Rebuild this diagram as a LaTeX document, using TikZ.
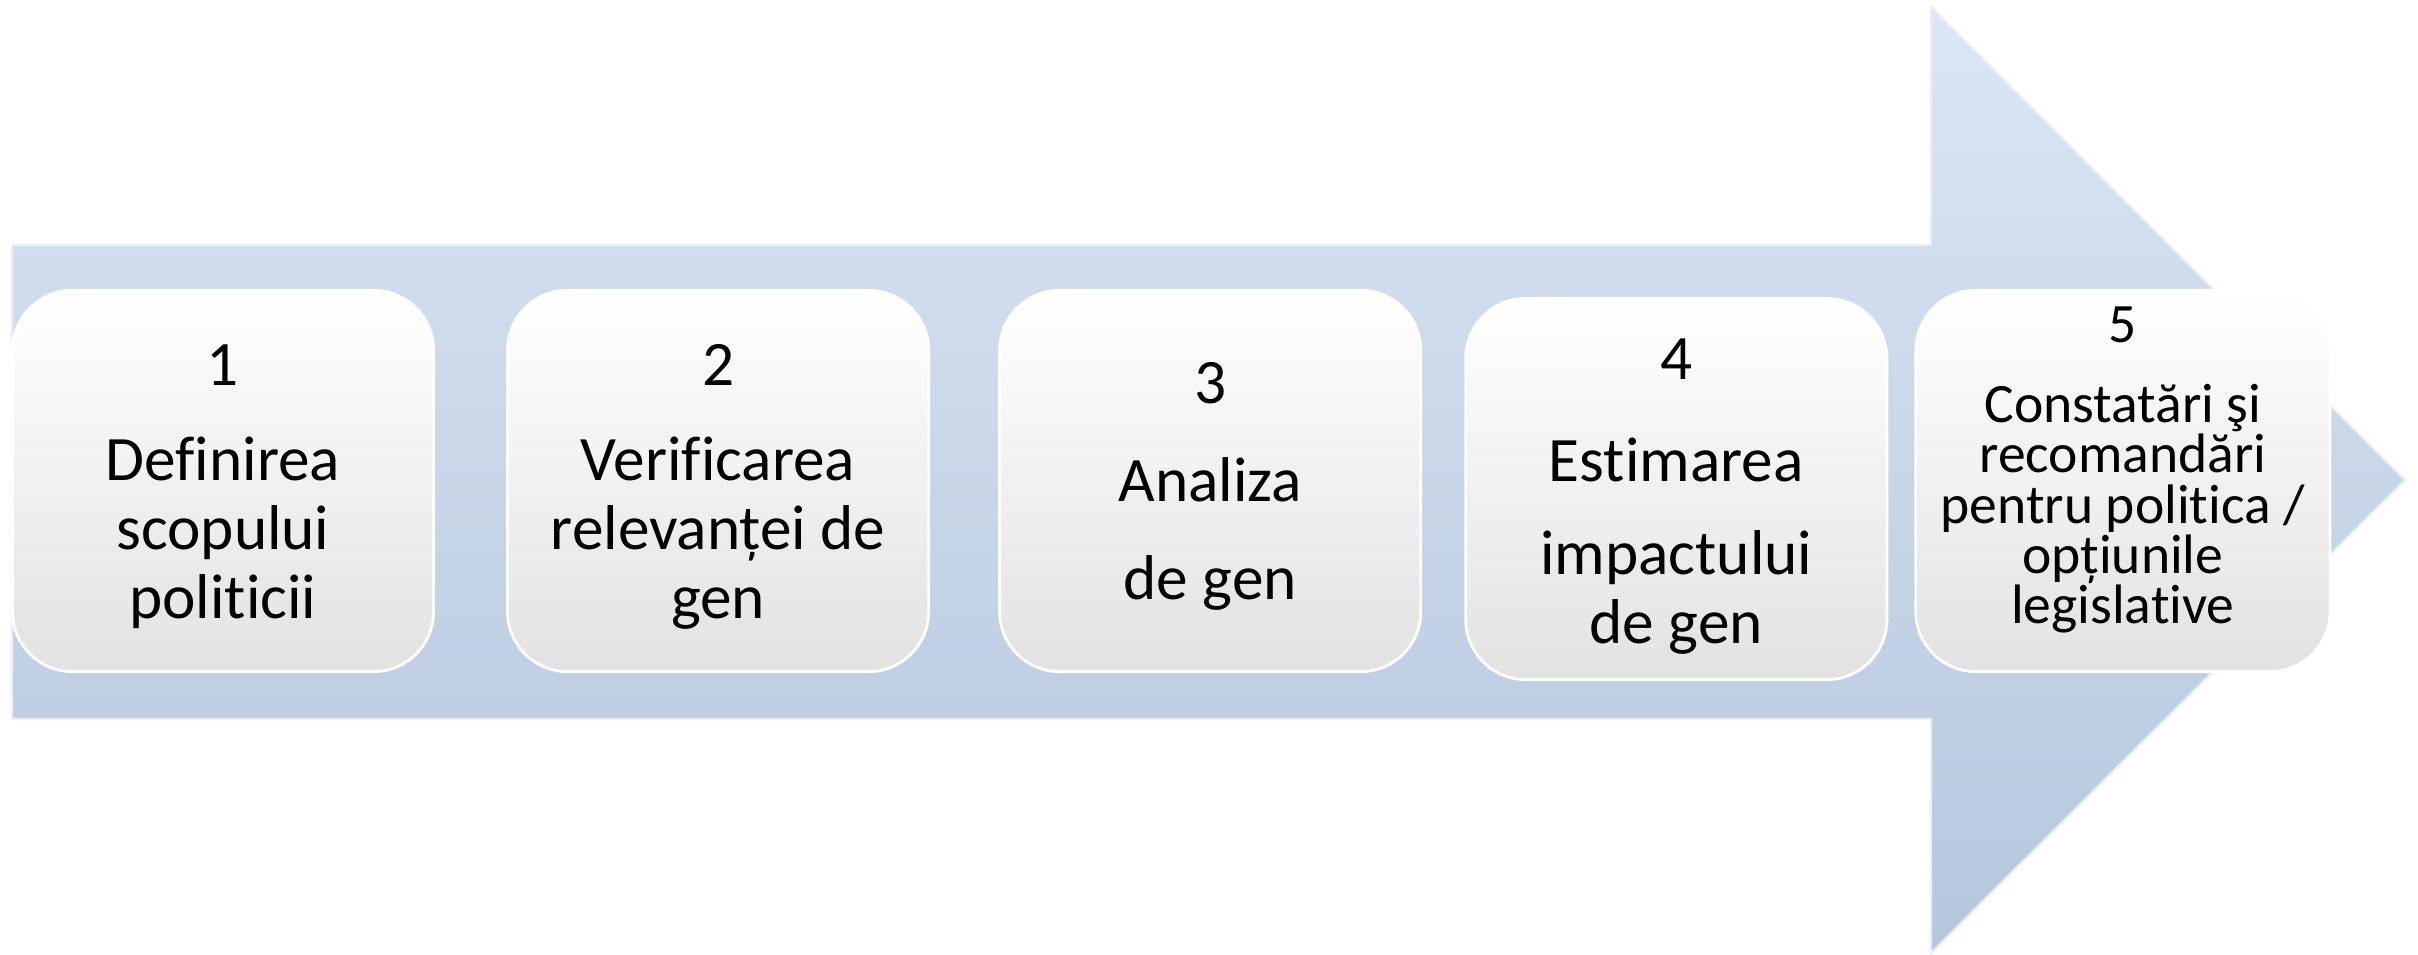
\documentclass[tikz,border=0pt]{standalone}
\usepackage{fontspec}
\setmainfont{Carlito}[Ligatures=NoCommon]
\usetikzlibrary{positioning}
\definecolor{arrowtop}{RGB}{220,230,244}
\definecolor{arrowbottom}{RGB}{181,198,221}
\definecolor{arrowedge}{RGB}{232,239,249}
\definecolor{boxgray}{RGB}{226,226,226}

\begin{document}
\begin{tikzpicture}[
    x=0.01cm, y=-0.01cm,
    stepbox/.style={rectangle, rounded corners=0.6cm, minimum width=4.21cm, minimum height=3.81cm, top color=white, middle color=white, bottom color=boxgray, draw=white, line width=0.8pt},
    steptext/.style={align=center, text=black, font=\fontsize{18}{19.6}\selectfont},
    lasttext/.style={align=center, text=black, font=\fontsize{15.8}{14.3}\selectfont}
]
\useasboundingbox (0,0) rectangle (2418,954);

% Big arrow
\fill[top color=arrowtop, bottom color=arrowbottom, draw=arrowedge, line width=0.6pt]
    (12,245) -- (1931,245) -- (1931,7) -- (2405,480) -- (1931,953) -- (1931,719) -- (12,719) -- cycle;

% Boxes
\node (b1) [stepbox] at (223,481) {};
\node (b2) [stepbox, right=0.71cm of b1] {};
\node (b3) [stepbox, right=0.68cm of b2] {};
\node (b4) [stepbox, right=0.42cm of b3, yshift=-0.08cm] {};
\node (b5) [stepbox, right=0.26cm of b4, yshift=0.08cm, minimum width=4.14cm] {};

% Texts
\node (t1) [steptext] at ([yshift=-0.055cm]b1.center) {1\\[0.26cm]Definirea\\scopului\\politicii};
\node (t2) [steptext] at ([yshift=-0.055cm]b2.center) {2\\[0.26cm]Verificarea\\relevanței de\\gen};
\node (t3) [steptext] at ([yshift=-0.055cm]b3.center) {3\\[0.29cm]Analiza\\[0.29cm]de gen};
\node (t4) [steptext] at ([yshift=-0.075cm]b4.center) {4\\[0.33cm]Estimarea\\[0.24cm]impactului\\de gen};
\node (t5) [lasttext] at ([yshift=0.11cm]b5.center) {5\\[0.30cm]Constatări şi\\recomandări\\pentru politica /\\opțiunile\\legislative};

\end{tikzpicture}
\end{document}
